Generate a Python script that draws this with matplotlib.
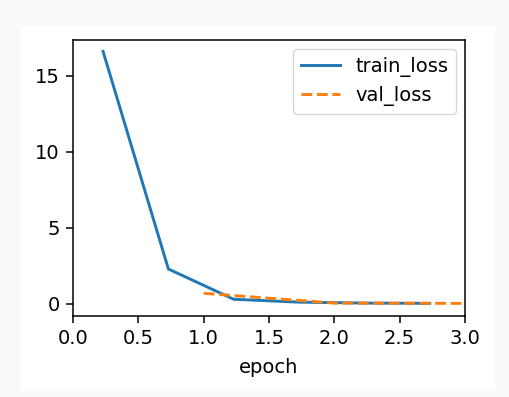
import matplotlib
matplotlib.use("Agg")
import matplotlib.pyplot as plt
from matplotlib.patches import Rectangle

train_epoch = [0.23, 0.73, 1.23, 1.73, 2.23, 2.73]
train_loss = [16.6, 2.3, 0.31, 0.12, 0.06, 0.04]
val_epoch = [1.0, 2.0, 3.0]
val_loss = [0.7, 0.06, 0.04]

W, H = 510, 397
dpi = 100
fig = plt.figure(figsize=(W / dpi, H / dpi), dpi=dpi, facecolor="#f9f9f9")
bg = Rectangle((20 / W, 1 - 391 / H), 475 / W, 365 / H,
               transform=fig.transFigure, facecolor="white",
               edgecolor="none", zorder=-10)
fig.add_artist(bg)
ax = fig.add_axes([73 / W, 1 - 316 / H, (465 - 73) / W, (316 - 40) / H])
ax.set_zorder(5)
ax.plot(train_epoch, train_loss, '-', color='#1f77b4', lw=2.1, label='train_loss')
ax.plot(val_epoch, val_loss, '--', color='#ff7f0e', lw=2.1, label='val_loss')
ax.set_xlim(0, 3.0)
ax.set_ylim(-0.79, 17.35)
ax.set_xticks([0.0, 0.5, 1.0, 1.5, 2.0, 2.5, 3.0])
ax.set_yticks([0, 5, 10, 15])
ax.tick_params(labelsize=14, width=1.1, length=5, pad=4.5)
for s in ax.spines.values():
    s.set_linewidth(1.1)
ax.set_xlabel('epoch', fontsize=14, labelpad=7)
ax.legend(loc='upper right', fontsize=14, borderaxespad=0.45)
fig.savefig('out.png', dpi=dpi, facecolor=fig.get_facecolor())
